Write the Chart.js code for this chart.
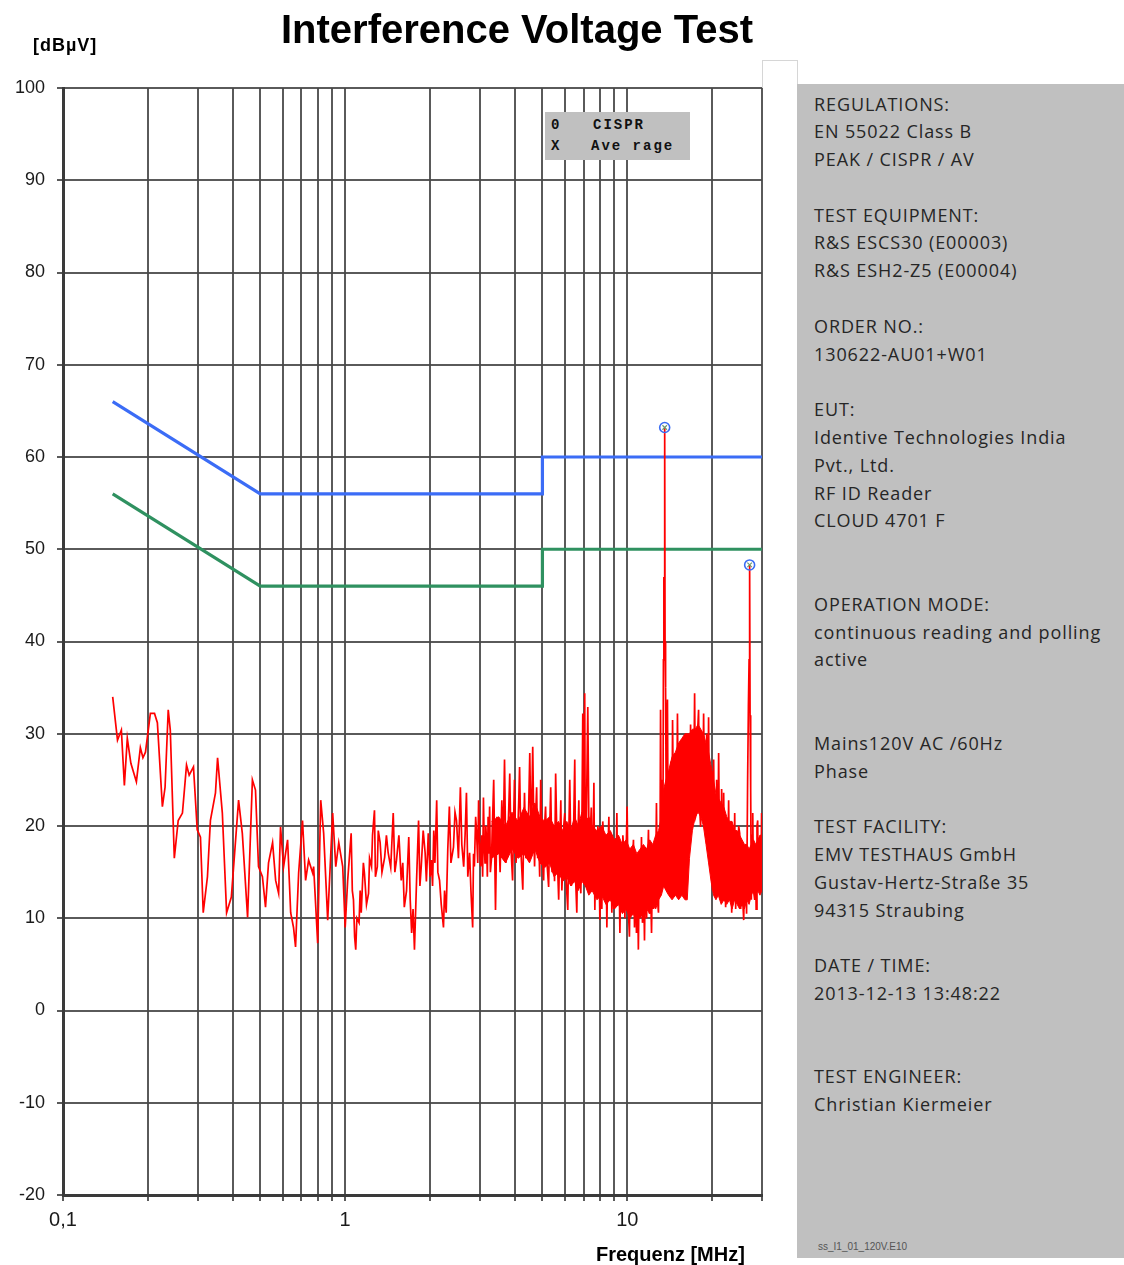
<!DOCTYPE html>
<html>
<head>
<meta charset="utf-8">
<title>Interference Voltage Test</title>
<script src="https://cdn.jsdelivr.net/npm/chart.js@4.4.1/dist/chart.umd.min.js"></script>
<style>
  html, body { margin: 0; padding: 0; background: #fff; }
  #page { position: relative; width: 1124px; height: 1265px; overflow: hidden; background: #fff;
          font-family: "Liberation Sans", Arial, sans-serif; }
  #plot { position: absolute; left: 0; top: 0; }
  #title { position: absolute; left: 0; top: 9px; width: 1034px; text-align: center;
           font-weight: bold; font-size: 40px; line-height: 40px; color: #000; white-space: nowrap; }
  #yUnit { position: absolute; left: 33px; top: 36px; font-weight: bold; font-size: 18px;
           line-height: 18px; letter-spacing: 1px; color: #000; }
  #xUnit { position: absolute; left: 596px; top: 1244px; font-weight: bold; font-size: 20px;
           line-height: 20px; color: #000; white-space: nowrap; }
  #legendBox { position: absolute; left: 545px; top: 112px; width: 145px; height: 48px;
               background: #c0c0c0; font-family: "Liberation Mono", "Courier New", monospace;
               font-weight: bold; font-size: 14px; letter-spacing: 2px; color: #111; }
  #legendBox span { position: absolute; line-height: 14px; white-space: pre; }
  #frame { position: absolute; left: 762px; top: 60px; width: 34px; height: 27px;
           border: 1px solid #d6d6d6; border-bottom: none; }
  #infoPanel { position: absolute; left: 797px; top: 84px; width: 327px; height: 1174px; background: #c0c0c0; }
  #infoText { position: absolute; left: 17px; top: 6.5px; margin: 0; font-family: "Open Sans", sans-serif;
              font-size: 18px; line-height: 27.8px; letter-spacing: 0.9px; color: #262626; white-space: pre; }
  #fileTag { position: absolute; left: 21px; top: 1158px; font-family: "Liberation Sans", Arial, sans-serif;
             font-size: 10px; line-height: 10px; color: #555; white-space: nowrap; }
</style>
</head>
<body>
<div id="page">
  <canvas id="plot" width="800" height="1265"></canvas>
  <div id="title">Interference Voltage Test</div>
  <div id="yUnit">[dBµV]</div>
  <div id="xUnit">Frequenz [MHz]</div>
  <div id="legendBox">
    <span style="left:6px;top:6px">0</span><span style="left:48px;top:6px">CISPR</span>
    <span style="left:6px;top:27px">X</span><span style="left:46px;top:27px">Ave rage</span>
  </div>
  <div id="frame"></div>
  <div id="infoPanel">
<pre id="infoText">REGULATIONS:
EN 55022 Class B
PEAK / CISPR / AV

TEST EQUIPMENT:
R&amp;S ESCS30 (E00003)
R&amp;S ESH2-Z5 (E00004)

ORDER NO.:
130622-AU01+W01

EUT:
Identive Technologies India
Pvt., Ltd.
RF ID Reader
CLOUD 4701 F


OPERATION MODE:
continuous reading and polling
active


Mains120V AC /60Hz
Phase

TEST FACILITY:
EMV TESTHAUS GmbH
Gustav-Hertz-Straße 35
94315 Straubing

DATE / TIME:
2013-12-13 13:48:22


TEST ENGINEER:
Christian Kiermeier</pre>
    <div id="fileTag">ss_I1_01_120V.E10</div>
  </div>
</div>

<script>
// ---- axis definitions ----
const xGridMHz = [0.1, 0.2, 0.3, 0.4, 0.5, 0.6, 0.7, 0.8, 0.9,
                  1, 2, 3, 4, 5, 6, 7, 8, 9,
                  10, 20, 30];
const xLabelMHz = [0.1, 1, 10];
const xLabelText = ['0,1', '1', '10'];
const yMin = -20, yMax = 100, yStep = 10;

// ---- EN 55022 Class B limit lines ----
const limitFreqMHz = [0.15, 0.5, 5, 5, 30];
const qpLimitDb = [66, 56, 56, 60, 60];
const avLimitDb = [56, 46, 46, 50, 50];

// ---- final measurement points ----
const peakFreqMHz = [13.56, 27.12];
const cisprPeakDb = [63.2, 48.3];
const averagePeakDb = [63.2, 48.3];

// ---- peak scan, [frequency MHz, level dBµV] ----
const scan150kTo1M = [
  [0.150,34.0],[0.156,29.3],[0.161,30.4],[0.165,24.4],[0.169,29.5],[0.174,26.8],[0.182,24.8],[0.188,28.5],
  [0.192,27.4],[0.196,28.0],[0.204,32.2],[0.211,32.2],[0.216,31.2],[0.225,22.1],[0.230,24.2],[0.236,32.6],
  [0.240,30.4],[0.248,16.5],[0.256,20.6],[0.265,21.4],[0.274,26.6],[0.280,25.5],[0.290,26.4],[0.299,19.6],
  [0.307,18.8],[0.314,10.6],[0.325,14.5],[0.333,20.6],[0.347,23.6],[0.353,27.4],[0.367,21.4],[0.380,10.6],
  [0.395,12.3],[0.419,22.8],[0.432,19.2],[0.451,10.1],[0.469,25.0],[0.481,23.9],[0.493,15.6],[0.509,14.5],
  [0.522,11.2],[0.535,16.0],[0.553,18.2],[0.567,14.1],[0.581,12.7],[0.590,19.9],[0.605,15.6],[0.625,18.5],
  [0.641,10.6],[0.656,9.0],[0.667,6.9],[0.684,14.9],[0.706,20.6],[0.724,14.1],[0.742,16.3],[0.767,14.9],
  [0.773,15.6],[0.799,7.3],[0.819,22.8],[0.839,19.2],[0.867,9.8],[0.903,21.4],[0.926,15.6],[0.949,18.2],
  [0.980,15.6]
];
const scan1MTo10M = [
  [1.00,9.0],[1.02,14.0],[1.05,19.2],[1.06,13.0],[1.07,12.0],[1.08,8.0],[1.09,6.6],[1.10,10.0],[1.12,9.5],
  [1.13,13.0],[1.14,10.6],[1.16,16.0],[1.17,14.9],[1.19,11.5],[1.21,12.7],[1.22,16.5],[1.24,15.6],[1.25,19.0],
  [1.27,21.7],[1.28,14.5],[1.30,15.6],[1.31,19.5],[1.33,18.2],[1.35,15.0],[1.38,16.6],[1.40,19.0],[1.42,17.1],
  [1.45,15.5],[1.48,21.4],[1.50,15.0],[1.52,16.3],[1.55,19.0],[1.58,14.1],[1.60,16.0],[1.62,11.2],[1.65,13.0],
  [1.68,18.8],[1.70,12.0],[1.72,8.4],[1.74,11.0],[1.76,6.6],[1.79,14.0],[1.82,20.6],[1.84,13.5],[1.86,15.6],
  [1.89,19.5],[1.92,17.1],[1.94,14.0],[1.97,19.2],[2.00,14.5],[2.02,16.3],[2.04,13.5],[2.06,19.5],[2.08,16.0],
  [2.11,22.8],[2.13,15.0],[2.16,14.1],[2.19,11.5],[2.23,9.0],[2.25,13.0],[2.28,10.6],[2.31,17.5],[2.34,22.1],
  [2.37,16.0],[2.42,17.7],[2.45,21.5],[2.48,20.6],[2.52,16.5],[2.56,24.2],[2.59,18.0],[2.63,15.6],[2.66,19.0],
  [2.69,23.6],[2.72,14.5],[2.76,17.1],[2.79,13.0],[2.83,9.0],[2.85,17.0],[2.87,15.6],[2.90,21.0],[2.92,19.5],
  [2.95,16.0],[2.97,22.8],[3.00,18.0],[3.02,15.6],[3.05,19.0],[3.07,14.5],[3.09,23.1],[3.11,18.0],[3.13,16.0],
  [3.15,20.0],[3.17,18.5],[3.19,14.5],[3.21,21.0],[3.23,17.0],[3.25,22.1],[3.27,15.0],[3.30,16.5],[3.36,25.0],
  [3.41,10.9],[3.45,21.0],[3.50,19.9],[3.54,15.0],[3.59,22.8],[3.63,18.0],[3.67,27.2],[3.71,16.0],[3.76,17.7],
  [3.80,22.0],[3.83,25.7],[3.87,17.5],[3.92,14.1],[3.95,20.0],[3.98,25.0],[4.03,16.0],[4.08,18.5],[4.12,22.5],
  [4.15,26.4],[4.20,17.0],[4.26,13.1],[4.29,19.0],[4.32,23.6],[4.37,16.5],[4.43,17.7],[4.47,22.0],[4.51,27.9],
  [4.56,18.0],[4.62,28.6],[4.66,20.0],[4.69,15.6],[4.73,21.0],[4.77,24.2],[4.81,16.5],[4.85,19.2],[4.89,14.5],
  [4.93,25.0],[4.99,17.0],[5.05,14.1],[5.09,20.0],[5.13,22.1],[5.19,16.0],[5.26,13.4],[5.30,19.0],[5.35,24.2],
  [5.41,15.0],[5.48,19.2],[5.52,14.0],[5.57,25.7],[5.64,17.0],[5.71,12.0],[5.76,18.0],[5.81,22.8],[5.86,13.0],
  [5.90,15.6],[5.95,20.0],[6.00,21.4],[6.07,14.0],[6.15,10.9],[6.20,19.0],[6.25,25.0],[6.33,13.5],[6.41,15.6],
  [6.46,21.0],[6.51,27.2],[6.56,14.0],[6.62,10.6],[6.67,18.0],[6.73,22.8],[6.78,15.0],[6.84,12.7],[6.90,20.0],
  [6.95,32.2],[7.00,18.0],[7.06,34.4],[7.09,20.0],[7.12,13.4],[7.18,24.0],[7.24,32.9],[7.30,21.0],[7.36,17.7],
  [7.45,22.0],[7.53,13.0],[7.61,24.7],[7.67,10.9],[7.74,19.0],[7.80,12.5],[7.86,20.0],[7.92,17.7],[7.99,9.8],
  [8.05,16.0],[8.12,11.0],[8.18,20.5],[8.25,18.5],[8.32,12.0],[8.39,19.0],[8.46,9.0],[8.53,17.0],[8.60,21.0],
  [8.67,12.0],[8.74,18.0],[8.81,10.6],[8.88,17.5],[8.95,11.0],[9.03,18.5],[9.10,13.0],[9.18,21.4],[9.25,12.0],
  [9.33,17.0],[9.41,8.4],[9.49,16.5],[9.57,11.0],[9.64,19.0],[9.72,17.1],[9.80,10.0],[9.88,16.0],[9.98,22.1]
];
const scan10MTo30M = [
  [10.08,11.0],[10.17,8.0],[10.26,17.0],[10.34,12.0],[10.42,16.0],[10.51,18.5],[10.60,9.0],[10.68,15.0],
  [10.77,8.4],[10.86,14.0],[10.94,6.6],[11.03,16.0],[11.12,10.0],[11.22,18.8],[11.31,9.5],[11.40,15.5],
  [11.50,7.6],[11.60,17.0],[11.70,10.0],[11.79,16.0],[11.88,19.6],[11.98,10.5],[12.08,14.0],[12.18,8.4],
  [12.28,16.5],[12.38,11.0],[12.48,17.7],[12.58,13.0],[12.68,22.5],[12.78,12.0],[12.89,10.6],[12.96,18.0],
  [13.04,14.0],[13.11,32.6],[13.20,18.0],[13.28,25.0],[13.36,16.0],[13.42,38.0],[13.47,47.0],[13.52,42.0],
  [13.56,63.2],[13.60,40.0],[13.66,35.0],[13.72,24.0],[13.80,30.0],[13.87,33.7],[13.95,18.0],[14.03,26.0],
  [14.11,23.1],[14.20,14.0],[14.28,27.0],[14.37,16.0],[14.46,31.5],[14.58,20.0],[14.70,17.7],[14.80,26.0],
  [14.90,15.0],[15.05,32.2],[15.18,19.0],[15.31,14.1],[15.44,24.0],[15.55,17.0],[15.69,28.6],[15.82,19.0],
  [15.95,16.0],[16.08,27.0],[16.20,18.0],[16.33,29.0],[16.47,21.0],[16.61,20.6],[16.75,31.0],[16.89,19.5],
  [17.03,30.4],[17.17,22.0],[17.31,34.4],[17.45,21.0],[17.59,21.4],[17.73,30.0],[17.88,32.6],[18.03,22.0],
  [18.18,19.9],[18.33,29.0],[18.48,21.0],[18.63,32.2],[18.78,22.0],[18.94,20.6],[19.10,30.0],[19.25,19.0],
  [19.40,31.8],[19.56,18.0],[19.73,15.6],[19.90,26.0],[20.06,13.0],[20.22,27.2],[20.38,17.0],[20.55,12.7],
  [20.72,25.0],[20.89,14.0],[21.06,27.9],[21.23,16.0],[21.41,12.0],[21.58,24.0],[21.76,13.0],[21.94,23.6],
  [22.12,15.0],[22.30,11.2],[22.48,20.0],[22.66,14.0],[22.85,22.8],[23.04,12.0],[23.23,19.0],[23.43,10.6],
  [23.62,18.0],[23.82,13.0],[24.01,21.4],[24.20,11.0],[24.40,18.0],[24.59,13.4],[24.80,20.0],[25.01,19.2],
  [25.21,11.0],[25.42,17.0],[25.63,12.0],[25.84,9.8],[26.05,16.0],[26.26,17.1],[26.45,10.5],[26.68,25.0],
  [26.85,33.0],[27.00,38.0],[27.12,48.3],[27.22,32.0],[27.35,24.0],[27.50,12.0],[27.65,19.0],[27.82,21.4],
  [28.00,13.0],[28.27,12.0],[28.45,18.0],[28.60,11.0],[28.80,20.0],[28.96,20.6],[29.10,13.0],[29.30,17.0],
  [29.45,12.7],[29.60,19.0],[29.75,14.0],[29.90,21.4],[30.00,16.0]
];

// ---- solid core of the densely sampled scan above 3 MHz (lower / upper edge) ----
const coreFreqMHz = [
  3.3, 3.5, 3.7, 3.9, 4.1, 4.3, 4.5, 4.7, 4.9, 5.1, 5.3, 5.5, 5.7, 5.9, 6.1, 6.3, 6.5, 6.7, 6.9, 7.1, 7.3, 7.5,
  7.8, 8.1, 8.4, 8.7, 9.0, 9.3, 9.6, 9.9, 10.2, 10.5, 10.8, 11.1, 11.4, 11.7, 12.0, 12.3, 12.6, 12.9, 13.2,
  13.45, 13.7,
  14.0, 14.4, 14.8, 15.2, 15.6, 16.0,
  16.3, 16.6,
  17.0, 17.4, 17.8, 18.2, 18.6, 19.0, 19.4, 19.8, 20.2, 20.6,
  21.0, 21.5, 22.0, 22.5, 23.0, 23.5, 24.0, 24.5, 25.0, 25.5, 26.0, 26.5, 27.0, 27.5, 28.0, 28.5, 29.0, 29.5, 30.0
];
const coreLowDb = [
  16.5, 17, 16, 17.5, 16.5, 17, 16, 17.5, 16, 15.5, 16, 14.5, 15, 14, 14.5, 13.5, 14, 13, 14, 13.5, 12.5, 13,
  12, 12.5, 11.5, 12, 11, 11.5, 10.5, 11, 10, 10.5, 9.5, 10.5, 10, 11, 10.5, 11.5, 11, 12, 12.5,
  13.5, 13,
  12.5, 12, 12.5, 12, 12.5, 12,
  12, 16.5,
  19.5, 21, 21.5, 21, 20, 18, 16, 14, 12.5, 12,
  12.5, 11.5, 12, 11.5, 12, 11, 12, 11.5, 11, 11.5, 11, 12, 11.5, 12.5, 13, 12.5, 13, 12.5, 13
];
const coreHighDb = [
  20.5, 21, 20, 21.5, 20.5, 22, 21, 22.5, 21, 20.5, 21, 20, 20.5, 19.5, 20.5, 19.5, 21, 20, 21.5, 20.5, 21, 20,
  19.5, 20, 19, 19.5, 18.5, 19, 18, 18.5, 17.5, 18, 17, 17.5, 18, 17.5, 18.5, 18, 19, 19.5, 21,
  24, 25,
  26, 27.5, 28, 29, 29.5, 30,
  30, 30,
  30.5, 30.5, 31, 30.5, 30, 29, 28, 26.5, 25, 23.5,
  23, 22.5, 22, 21, 20.5, 20.5, 19.5, 19.5, 19, 18.5, 18, 18, 17.5, 18, 18.5, 18, 18.5, 19, 19
];

// ---- build the datasets ----
const toPoints = (pairs) => pairs.map(([f, db]) => ({ x: f, y: db }));
const zip = (xs, ys) => xs.map((f, i) => ({ x: f, y: ys[i] }));
const scanPoints = toPoints([...scan150kTo1M, ...scan1MTo10M, ...scan10MTo30M]);
const RED = '#ff0000';

const ctx = document.getElementById('plot').getContext('2d');
new Chart(ctx, {
  type: 'line',
  data: {
    datasets: [
      { // CISPR quasi-peak finals (circles)
        data: zip(peakFreqMHz, cisprPeakDb), showLine: false,
        pointStyle: 'circle', pointRadius: 5, pointBorderWidth: 1.6,
        pointBorderColor: '#3a6cf4', pointBackgroundColor: 'rgba(0,0,0,0)'
      },
      { // average finals (crosses)
        data: zip(peakFreqMHz, averagePeakDb), showLine: false,
        pointStyle: 'crossRot', pointRadius: 3.2, pointBorderWidth: 1.2,
        pointBorderColor: '#6f9a6f', pointBackgroundColor: 'rgba(0,0,0,0)'
      },
      { // peak scan
        data: scanPoints, borderColor: RED, borderWidth: 1.7,
        pointRadius: 0, tension: 0, fill: false
      },
      { // upper edge of the dense scan core, filled down to the lower edge
        data: zip(coreFreqMHz, coreHighDb), borderColor: RED, borderWidth: 1,
        backgroundColor: RED, pointRadius: 0, tension: 0, fill: '+1'
      },
      { // lower edge of the dense scan core
        data: zip(coreFreqMHz, coreLowDb), borderColor: RED, borderWidth: 1,
        pointRadius: 0, tension: 0, fill: false
      },
      { // quasi-peak limit
        data: zip(limitFreqMHz, qpLimitDb), borderColor: '#3b6cf6', borderWidth: 3.2,
        pointRadius: 0, tension: 0, fill: false
      },
      { // average limit
        data: zip(limitFreqMHz, avLimitDb), borderColor: '#2f9160', borderWidth: 3.2,
        pointRadius: 0, tension: 0, fill: false
      }
    ]
  },
  options: {
    responsive: false,
    animation: false,
    events: [],
    layout: { padding: { top: 88, left: 0, right: 38, bottom: 0 } },
    plugins: { legend: { display: false }, tooltip: { enabled: false }, title: { display: false },
               filler: { propagate: false } },
    scales: {
      x: {
        type: 'logarithmic', min: 0.1, max: 30,
        afterBuildTicks: (s) => { s.ticks = xGridMHz.map(v => ({ value: v })); },
        afterFit: (s) => { s.height = 70; s.paddingLeft = 0; s.paddingRight = 0; },
        ticks: {
          autoSkip: false, maxRotation: 0, minRotation: 0, padding: 7, color: '#1a1a1a',
          font: { family: '"Liberation Sans", Arial, sans-serif', size: 20 },
          callback: (v) => { const i = xLabelMHz.indexOf(v); return i >= 0 ? xLabelText[i] : ''; }
        },
        grid: { color: 'rgba(72,72,72,0.9)', lineWidth: 2, tickLength: 6, drawTicks: true },
        border: { color: '#3a3a3a', width: 3 }
      },
      y: {
        type: 'linear', min: yMin, max: yMax,
        afterFit: (s) => { s.width = 63; s.paddingTop = 0; s.paddingBottom = 0; },
        ticks: {
          stepSize: yStep, padding: 12, color: '#1a1a1a',
          font: { family: '"Liberation Sans", Arial, sans-serif', size: 18 }
        },
        grid: { color: 'rgba(72,72,72,0.9)', lineWidth: 2, tickLength: 6, drawTicks: true },
        border: { color: '#3a3a3a', width: 3 }
      }
    }
  }
});
</script>
</body>
</html>
